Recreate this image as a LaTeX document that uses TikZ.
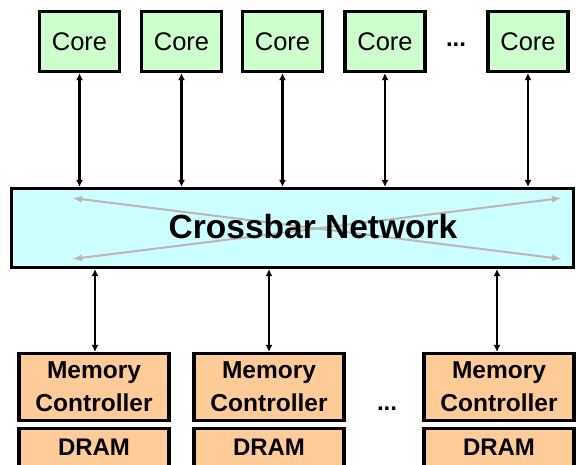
\documentclass[tikz,border=0pt]{standalone}
\usepackage{fontspec}
\setmainfont{Liberation Sans}
\usetikzlibrary{arrows.meta}
\definecolor{coregreen}{RGB}{204,255,204}
\definecolor{xbarcyan}{RGB}{204,255,255}
\definecolor{mempeach}{RGB}{255,204,153}
\definecolor{linkgray}{RGB}{190,180,180}
\tikzset{
  box/.style={draw=black, line width=3.2pt, inner sep=0pt, anchor=center},
  corebox/.style={box, fill=coregreen, minimum width=80pt, minimum height=60pt,
    font=\fontsize{25.5}{30}\selectfont},
  xbarbox/.style={box, fill=xbarcyan, minimum width=562pt, minimum height=79pt},
  mcbox/.style={box, fill=mempeach, minimum width=150pt, minimum height=67pt,
    align=center, font=\bfseries\fontsize{24.5}{33}\selectfont},
  drambox/.style={box, fill=mempeach, minimum width=150pt, minimum height=38pt,
    font=\bfseries\fontsize{24}{28}\selectfont},
  link/.style={line width=2.4pt, {Latex[length=7pt,width=7pt]}-{Latex[length=7pt,width=7pt]}},
  xlink/.style={draw=linkgray, line width=2pt,
    {Latex[length=10pt,width=7pt]}-{Latex[length=10pt,width=7pt]}},
  dots/.style={font=\bfseries\fontsize{24}{28}\selectfont, inner sep=0pt}
}
\begin{document}
\begin{tikzpicture}[x=1pt, y=-1pt]
  \useasboundingbox (0,0) rectangle (576,464);

  % processor cores
  \node[corebox] (c1) at (79.5,41.5) {Core};
  \node[corebox] (c2) at (181.5,41.5) {Core};
  \node[corebox] (c3) at (282.5,41.5) {Core};
  \node[corebox] (c4) at (385,41.5) {Core};
  \node[corebox] (c5) at (528,41.5) {Core};
  \node[dots] (cdots) at (456,45) {...};

  % interconnect
  \node[xbarbox] (xbar) at (292.5,228) {};
  \coordinate (xl1) at (72,198);
  \coordinate (xl2) at (72,259);
  \coordinate (xr1) at (562,198);
  \coordinate (xr2) at (562,259);
  \draw[xlink] (xl1) -- (xr2);
  \draw[xlink] (xl2) -- (xr1);
  \node[font=\bfseries\fontsize{33.5}{38}\selectfont, inner sep=0pt] (xlabel)
    at (313,227) {Crossbar Network};

  % memory controllers and DRAM
  \node[mcbox] (mc1) at (94,387) {Memory\\Controller};
  \node[mcbox] (mc2) at (269,387) {Memory\\Controller};
  \node[mcbox] (mc3) at (499,387) {Memory\\Controller};
  \node[drambox] (d1) at (94,447.5) {DRAM};
  \node[drambox] (d2) at (269,447.5) {DRAM};
  \node[drambox] (d3) at (499,447.5) {DRAM};
  \node[dots] (mdots) at (387,409) {...};

  % core <-> crossbar links
  \foreach \c in {c1,c2,c3,c4,c5}
    \draw[link] (\c.south) -- (\c.south |- xbar.north);

  % crossbar <-> memory controller links
  \draw[link] (xbar.south -| 95,0) -- (mc1.north -| 95,0);
  \draw[link] (xbar.south -| mc2.north) -- (mc2.north);
  \draw[link] (xbar.south -| 497,0) -- (mc3.north -| 497,0);
\end{tikzpicture}
\end{document}
